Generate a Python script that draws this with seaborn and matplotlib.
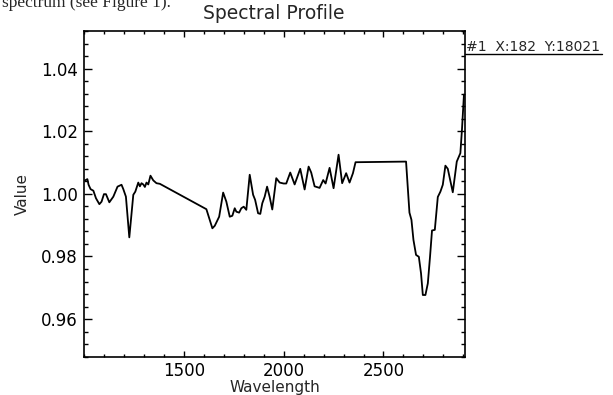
import matplotlib
matplotlib.use('Agg')
import matplotlib.pyplot as plt
from matplotlib.lines import Line2D
from matplotlib.ticker import MultipleLocator
import seaborn as sns
import pandas as pd

# --- data ---
wavelength = [1005, 1017, 1023, 1033, 1047, 1060, 1077, 1088, 1100, 1110,
              1127, 1147, 1168, 1188, 1197, 1210, 1227, 1247, 1257, 1272,
              1280, 1288, 1297, 1305, 1313, 1322, 1333, 1347, 1363, 1380,
              1613, 1643, 1655, 1677, 1697, 1713, 1730, 1743, 1755, 1763,
              1777, 1788, 1800, 1813, 1830, 1847, 1857, 1872, 1883, 1893,
              1905, 1917, 1930, 1943, 1963, 1980, 2000, 2013, 2033, 2055,
              2083, 2105, 2125, 2138, 2155, 2180, 2198, 2210, 2230, 2250,
              2275, 2293, 2313, 2330, 2347, 2360, 2613, 2630, 2640, 2650,
              2663, 2677, 2688, 2697, 2710, 2722, 2733, 2743, 2757, 2772,
              2785, 2797, 2810, 2822, 2847, 2867, 2885, 2893, 2903]
value = [1.0043, 1.0047, 1.0029, 1.0015, 1.0010, 0.9986, 0.9967, 0.9975, 0.9999, 0.9999,
         0.9973, 0.9991, 1.0023, 1.0029, 1.0015, 0.9991, 0.9861, 0.9997, 1.0007, 1.0036,
         1.0024, 1.0034, 1.0030, 1.0022, 1.0036, 1.0030, 1.0058, 1.0043, 1.0034, 1.0032,
         0.9951, 0.9890, 0.9898, 0.9927, 1.0004, 0.9975, 0.9927, 0.9930, 0.9954, 0.9943,
         0.9940, 0.9954, 0.9959, 0.9949, 1.0061, 0.9997, 0.9981, 0.9938, 0.9936, 0.9970,
         0.9991, 1.0023, 0.9990, 0.9950, 1.0050, 1.0036, 1.0033, 1.0033, 1.0068, 1.0030,
         1.0080, 1.0014, 1.0087, 1.0068, 1.0024, 1.0019, 1.0044, 1.0033, 1.0083, 1.0018,
         1.0125, 1.0034, 1.0066, 1.0036, 1.0066, 1.0101, 1.0103, 0.9940, 0.9917, 0.9853,
         0.9805, 0.9799, 0.9746, 0.9677, 0.9677, 0.9714, 0.9799, 0.9883, 0.9885, 0.9990,
         1.0007, 1.0029, 1.0090, 1.0080, 1.0005, 1.0103, 1.0130, 1.0205, 1.0317]
x_ticks = [1500, 2000, 2500]
y_ticks = [0.96, 0.98, 1.00, 1.02, 1.04]

df = pd.DataFrame({'Wavelength': wavelength, 'Value': value})

sns.set_theme(style='ticks')
plt.rcParams['font.family'] = ['DejaVu Sans']

fig = plt.figure(figsize=(6.13, 3.95), dpi=100)
ax = fig.add_axes([0.137, 0.097, 0.6215, 0.8245])

sns.lineplot(data=df, x='Wavelength', y='Value', color='black', linewidth=1.3,
             sort=False, estimator=None, ax=ax)

ax.set_xlim(1000, 2908)
ax.set_ylim(0.948, 1.052)
ax.set_xticks(x_ticks)
ax.set_xticklabels([str(t) for t in x_ticks])
ax.set_yticks(y_ticks)
ax.set_yticklabels([f'{t:.2f}' for t in y_ticks])
ax.xaxis.set_minor_locator(MultipleLocator(100))
ax.yaxis.set_minor_locator(MultipleLocator(0.004))

for side in ax.spines.values():
    side.set_linewidth(1.2)
    side.set_color('black')
ax.tick_params(axis='both', which='both', direction='in', top=True, right=True,
               colors='black', width=1.0, labelsize=12)
ax.tick_params(axis='x', which='major', length=4.5, pad=4)
ax.tick_params(axis='x', which='minor', length=2.4)
ax.tick_params(axis='y', which='major', length=6, pad=4.5)
ax.tick_params(axis='y', which='minor', length=3)

ax.set_xlabel('Wavelength', fontsize=11, labelpad=0)
ax.set_ylabel('Value', fontsize=11, labelpad=8)

# title and cursor readout, placed in figure space like the original
fig.text(274 / 613, 1 - 19 / 395, 'Spectral Profile', ha='center', va='baseline', fontsize=13.5)
fig.text(466 / 613, 1 - 51 / 395, '#1  X:182  Y:18021', ha='left', va='baseline', fontsize=10)
fig.add_artist(Line2D([465 / 613, 602 / 613], [1 - 53.5 / 395, 1 - 53.5 / 395],
                      transform=fig.transFigure, color='black', linewidth=1.0))

# cropped caption text from the page above the figure (top half is off the page)
fig.text(2 / 613, 1 - 7 / 395, 'spectrum (see Figure 1).', ha='left', va='baseline',
         fontsize=12.5, family=['Liberation Serif', 'DejaVu Serif'])

fig.savefig('out.png', dpi=100, facecolor='white')
